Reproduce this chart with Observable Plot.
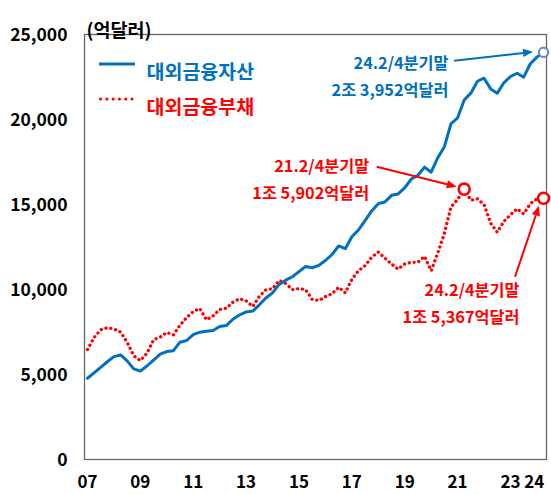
<!DOCTYPE html>
<html><head><meta charset="utf-8">
<script src="https://cdn.jsdelivr.net/npm/d3@7"></script>
<script src="https://cdn.jsdelivr.net/npm/@observablehq/plot@0.6"></script>
<style>
html,body{margin:0;padding:0;background:#fff;}
#chart svg{display:block;}
</style></head><body><div id="chart"></div>
<script>
// ---- data (억달러), quarterly 2007 1/4 – 2024 2/4 ----
const startYear = 2007;
const seriesNames = ["대외금융자산", "대외금융부채"];
const assets = [4780, 5100, 5420, 5750, 6050, 6150, 5800, 5330, 5200, 5500, 5850, 6200,
  6350, 6400, 6900, 7000, 7350, 7490, 7550, 7590, 7820, 7880, 8250, 8500,
  8680, 8730, 9100, 9500, 9800, 10300, 10550, 10750, 11050, 11350, 11280, 11420,
  11706, 12059, 12560, 12400, 13100, 13500, 14050, 14620, 15050, 15150, 15540, 15620,
  15980, 16500, 16720, 17200, 16900, 17750, 18400, 19750, 20100, 21150, 21550, 22250,
  22430, 21800, 21550, 22160, 22530, 22720, 22490, 23280, 23670, 23952];
const liabilities = [6470, 7180, 7630, 7750, 7680, 7500, 6900, 6100, 5820, 6250, 7050, 7200,
  7470, 7330, 7900, 8350, 8700, 8880, 8220, 8450, 8820, 8900, 9250, 9450,
  9330, 9000, 9600, 9980, 10050, 10530, 10350, 9990, 10050, 9990, 9420, 9350,
  9580, 9750, 10130, 9800, 10600, 11100, 11400, 11900, 12200, 11850, 11500, 11200,
  11500, 11600, 11600, 11950, 11100, 12150, 13300, 14850, 15300, 15902, 15250, 15330,
  15000, 13900, 13370, 14000, 14400, 14750, 14450, 15050, 15330, 15367];
const yTicks = [0, 5000, 10000, 15000, 20000, 25000];
const xTickYears = [2007, 2009, 2011, 2013, 2015, 2017, 2019, 2021, 2023, 2024];
const unitLabel = "(억달러)";

const colA = "#0070C0", colL = "#FF0000";

const data = assets.map((a, i) => ({
  q: i,
  year: startYear + Math.floor(i / 4),
  qtr: (i % 4) + 1,
  assets: a,
  liab: liabilities[i]
}));
const qLabel = d => `${String(d.year).slice(2)}.${d.qtr}/4분기말`;
const amt = v => `${Math.floor(v / 10000)}조 ${d3.format(",")(v % 10000)}억달러`;

const lastA = {q: data.at(-1).q, v: data.at(-1).assets, d: data.at(-1)};
const lastL = {q: data.at(-1).q, v: data.at(-1).liab, d: data.at(-1)};
const peakRow = data.reduce((m, d) => d.liab > m.liab ? d : m, data[0]);
const peakL = {q: peakRow.q, v: peakRow.liab, d: peakRow};

// year labels sit at the first quarter of each year (last one kept inside the frame)
const tickPos = xTickYears.map(y => Math.min((y - startYear) * 4, 67.6));
const tickLab = new Map(tickPos.map((p, i) => [p, String(xTickYears[i]).slice(2)]));

// arrow from a pixel offset of a data point to another offset of it
function arrowMark(pt, sx, sy, ex, ey, color) {
  return (index, scales) => {
    const px = scales.x(pt.q), py = scales.y(pt.v);
    const x1 = px + sx, y1 = py + sy, x2 = px + ex, y2 = py + ey;
    const ang = Math.atan2(y2 - y1, x2 - x1);
    const L = 10, W = 4.2;
    const bx = x2 - L * Math.cos(ang), by = y2 - L * Math.sin(ang);
    const g = d3.create("svg:g");
    g.append("line").attr("x1", x1).attr("y1", y1).attr("x2", bx).attr("y2", by)
      .attr("stroke", color).attr("stroke-width", 2);
    g.append("polygon").attr("points", [
      [x2, y2],
      [bx + W * Math.sin(ang), by - W * Math.cos(ang)],
      [bx - W * Math.sin(ang), by + W * Math.cos(ang)]
    ].map(p => p.join(",")).join(" ")).attr("fill", color);
    return g.node();
  };
}

// legend swatches
function legendMark(index, scales, values, dims) {
  const g = d3.create("svg:g");
  const x0 = dims.marginLeft + 15, x1 = dims.marginLeft + 51;
  g.append("line").attr("x1", x0).attr("x2", x1)
    .attr("y1", dims.marginTop + 30).attr("y2", dims.marginTop + 30)
    .attr("stroke", colA).attr("stroke-width", 3);
  g.append("line").attr("x1", x0 + 1.5).attr("x2", x1 - 3)
    .attr("y1", dims.marginTop + 65).attr("y2", dims.marginTop + 65)
    .attr("stroke", colL).attr("stroke-width", 3).attr("stroke-linecap", "round")
    .attr("stroke-dasharray", "0.1 6.2");
  return g.node();
}

const annFont = 16.3;
const chart = Plot.plot({
  width: 551, height: 494,
  marginLeft: 84, marginRight: 5, marginTop: 34, marginBottom: 35,
  style: {fontFamily: "'Noto Sans CJK KR', 'Noto Sans', sans-serif", fontWeight: "bold", fontSize: "17px", color: "#000", background: "#fff"},
  x: {domain: [-0.45, 69.45], axis: null, label: null},
  y: {domain: [0, 25000], axis: null, label: null},
  marks: [
    Plot.frame({stroke: "#666", strokeWidth: 1.3}),
    Plot.axisY({ticks: yTicks, tickSize: 0, tickPadding: 17, tickFormat: d3.format(","), fontSize: 17.5, dy: 1, label: null}),
    Plot.axisX({ticks: tickPos, tickSize: 0, tickPadding: 16, tickFormat: d => tickLab.get(d), fontSize: 17, label: null}),
    Plot.text([unitLabel], {frameAnchor: "top-left", textAnchor: "start", dx: 2, dy: -11, fontSize: 18.5, fill: "#000"}),
    // legend
    legendMark,
    Plot.text([seriesNames[0]], {frameAnchor: "top-left", textAnchor: "start", dx: 62, dy: 31, fontSize: 19.5, fill: colA}),
    Plot.text([seriesNames[1]], {frameAnchor: "top-left", textAnchor: "start", dx: 62, dy: 66, fontSize: 19.5, fill: colL}),
    // series
    Plot.line(data, {x: "q", y: "liab", stroke: colL, strokeWidth: 3.3, strokeDasharray: "0.1 4.8", strokeLinecap: "round"}),
    Plot.line(data, {x: "q", y: "assets", stroke: colA, strokeWidth: 3, strokeLinejoin: "round"}),
    // end / peak markers
    Plot.dot([lastA], {x: "q", y: "v", r: 4.7, stroke: "#6690CC", strokeWidth: 2.2, fill: "white"}),
    Plot.dot([peakL, lastL], {x: "q", y: "v", r: 5.5, stroke: colL, strokeWidth: 2.6, fill: "white"}),
    // annotations
    Plot.text([lastA], {x: "q", y: "v", text: p => qLabel(p.d), textAnchor: "end", dx: -95, dy: 11, fill: colA, fontSize: annFont}),
    Plot.text([lastA], {x: "q", y: "v", text: p => amt(p.v), textAnchor: "end", dx: -95, dy: 38, fill: colA, fontSize: annFont}),
    arrowMark(lastA, -89, 9, -10, 0, colA),
    Plot.text([peakL], {x: "q", y: "v", text: p => qLabel(p.d), textAnchor: "end", dx: -95, dy: -22, fill: colL, fontSize: annFont}),
    Plot.text([peakL], {x: "q", y: "v", text: p => amt(p.v), textAnchor: "end", dx: -95, dy: 5, fill: colL, fontSize: annFont}),
    arrowMark(peakL, -87, -22, -7, -2, colL),
    Plot.text([lastL], {x: "q", y: "v", text: p => qLabel(p.d), textAnchor: "end", dx: -24, dy: 93, fill: colL, fontSize: annFont}),
    Plot.text([lastL], {x: "q", y: "v", text: p => amt(p.v), textAnchor: "end", dx: -24, dy: 120, fill: colL, fontSize: annFont}),
    arrowMark(lastL, -28, 79, -4, 8, colL)
  ]
});
document.getElementById("chart").append(chart);
</script>
</body></html>
